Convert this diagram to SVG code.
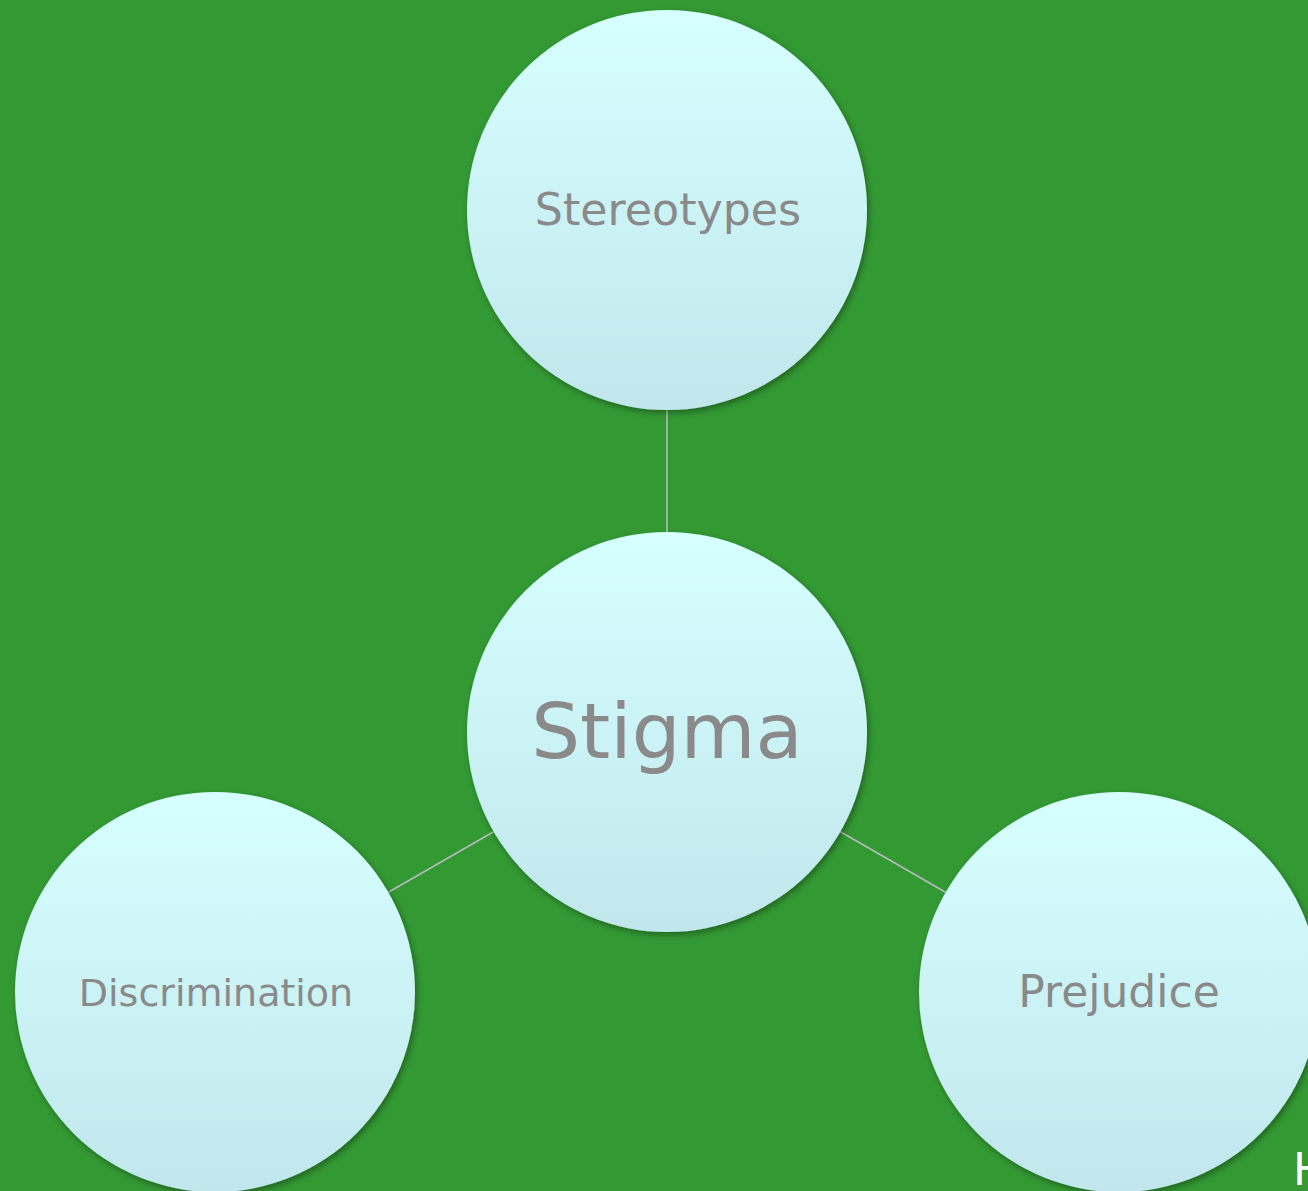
<svg xmlns="http://www.w3.org/2000/svg" width="1308" height="1191" viewBox="0 0 1308 1191">
<defs>
<linearGradient id="g" x1="0" y1="0" x2="0" y2="1">
<stop offset="0" stop-color="#d6ffff"/>
<stop offset="1" stop-color="#c1e7ec"/>
</linearGradient>
<filter id="sh" x="-20%" y="-20%" width="140%" height="140%">
<feDropShadow dx="2" dy="3" stdDeviation="3" flood-color="#000" flood-opacity="0.35"/>
</filter>
<style>
.n{fill:url(#g);filter:url(#sh)}
.t{font-family:"DejaVu Sans",Verdana,sans-serif;fill:#8a8a8a;text-anchor:middle}
.c{stroke:#b4bcbc;stroke-width:1.6;fill:none}
</style>
</defs>
<rect width="1308" height="1191" fill="#339933"/>
<g id="connectors">
<line class="c" x1="667" y1="410" x2="667" y2="532"/>
<line class="c" x1="493.6" y1="831.7" x2="388.4" y2="892.3"/>
<line class="c" x1="840.4" y1="831.7" x2="945.6" y2="892.3"/>
</g>
<g id="stereotypes">
<circle class="n" cx="667" cy="210" r="200"/>
<text class="t" x="668" y="225" font-size="44.3">Stereotypes</text>
</g>
<g id="stigma">
<circle class="n" cx="667" cy="732" r="200"/>
<text class="t" x="667" y="758" font-size="77">Stigma</text>
</g>
<g id="discrimination">
<circle class="n" cx="215" cy="992" r="200"/>
<text class="t" x="216" y="1006" font-size="38">Discrimination</text>
</g>
<g id="prejudice">
<circle class="n" cx="1119" cy="992" r="200"/>
<text class="t" x="1119" y="1007" font-size="44">Prejudice</text>
</g>
<text x="1293" y="1185" font-family="DejaVu Sans,Verdana,sans-serif" font-size="44" fill="#ffffff">H</text>
</svg>
